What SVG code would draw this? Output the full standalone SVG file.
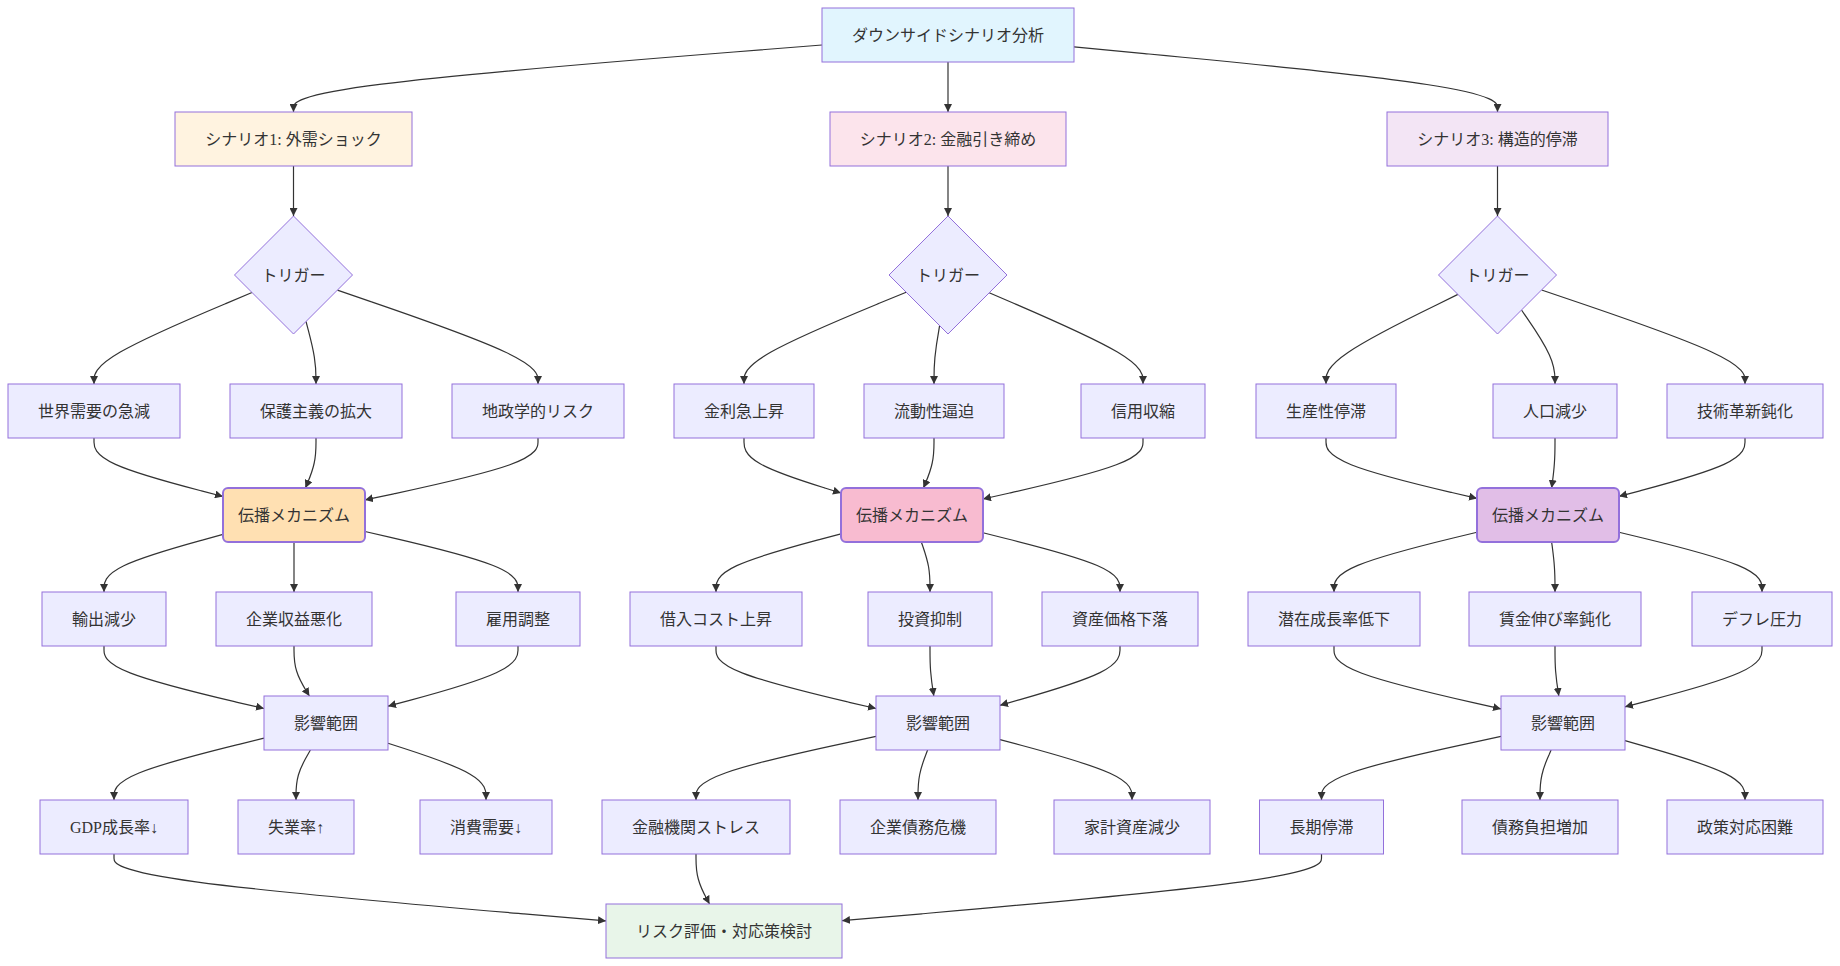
<svg xmlns="http://www.w3.org/2000/svg" width="1840" height="966" viewBox="0 0 1840 966">
<style>
.n rect,.n polygon{fill:#ECECFF;stroke:#9370DB;stroke-width:1px}
.n text{font-family:"Liberation Serif","Noto Sans CJK JP",serif;font-size:16px;fill:#333;text-anchor:middle;dominant-baseline:central}
.mech rect{stroke-width:2px}
#edges path{fill:none;stroke:#333;stroke-width:1.2px;marker-end:url(#arr)}
</style>
<defs>
<marker id="arr" viewBox="0 0 10 10" refX="10" refY="5" markerUnits="userSpaceOnUse" markerWidth="8" markerHeight="8" orient="auto"><path d="M0,0 L10,5 L0,10 z" fill="#333"/></marker>
</defs>
<rect width="1840" height="966" fill="#fff"/>
<g id="edges">
<path d="M822,45 L733.9,52 C645.8,59 469.7,73 381.6,84.2 C293.5,95.3 293.5,103.7 293.5,107.8 L293.5,112"/>
<path d="M948,62 L948,112"/>
<path d="M1074,46.9 L1144.6,53.6 C1215.2,60.3 1356.3,73.6 1426.9,84.5 C1497.5,95.3 1497.5,103.7 1497.5,107.8 L1497.5,112"/>
<path d="M293.5,166 L293.5,216"/>
<path d="M948,166 L948,216"/>
<path d="M1497.5,166 L1497.5,216"/>
<path d="M252,292.5 L225.7,303.6 C199.3,314.7 146.7,336.8 120.3,352.1 C94,367.3 94,375.7 94,379.8 L94,384"/>
<path d="M306,321.5 L307.7,327.8 C309.3,334 312.7,346.5 314.3,356.9 C316,367.3 316,375.7 316,379.8 L316,384"/>
<path d="M337.4,290.1 L370.8,301.6 C404.3,313.1 471.1,336 504.6,351.7 C538,367.3 538,375.7 538,379.8 L538,384"/>
<path d="M906.2,292.2 L879.2,303.3 C852.1,314.5 798.1,336.7 771,352 C744,367.3 744,375.7 744,379.8 L744,384"/>
<path d="M939.6,325.6 L938.7,331.2 C937.7,336.7 935.9,347.9 934.9,357.6 C934,367.3 934,375.7 934,379.8 L934,384"/>
<path d="M989.2,292.8 L1014.8,303.8 C1040.5,314.9 1091.7,336.9 1117.4,352.1 C1143,367.3 1143,375.7 1143,379.8 L1143,384"/>
<path d="M1457.9,294.4 L1435.9,305.2 C1413.9,315.9 1370,337.5 1348,352.4 C1326,367.3 1326,375.7 1326,379.8 L1326,384"/>
<path d="M1521.5,310 L1527.1,318.2 C1532.7,326.3 1543.8,342.7 1549.4,355 C1555,367.3 1555,375.7 1555,379.8 L1555,384"/>
<path d="M1541.6,290 L1575.5,301.5 C1609.4,313 1677.2,336 1711.1,351.7 C1745,367.3 1745,375.7 1745,379.8 L1745,384"/>
<path d="M94,438 L94,442.2 C94,446.3 94,454.7 115.5,464.4 C137,474.2 180,485.3 201.5,490.9 L223,496.5"/>
<path d="M316,438 L316,442.2 C316,446.3 316,454.7 314.2,463 C312.5,471.3 308.9,479.7 307.2,483.8 L305.4,488"/>
<path d="M538,438 L538,442.2 C538,446.3 538,454.7 509.2,465 C480.3,475.3 422.7,487.6 393.8,493.8 L365,499.9"/>
<path d="M744,438 L744,442.2 C744,446.3 744,454.7 760.2,463.8 C776.3,473 808.7,483 824.8,488 L841,493"/>
<path d="M934,438 L934,442.2 C934,446.3 934,454.7 932.2,463 C930.5,471.3 926.9,479.7 925.2,483.8 L923.4,488"/>
<path d="M1143,438 L1143,442.2 C1143,446.3 1143,454.7 1116.3,464.8 C1089.7,475 1036.3,487 1009.7,493 L983,499"/>
<path d="M1326,438 L1326,442.2 C1326,446.3 1326,454.7 1351.2,464.7 C1376.3,474.8 1426.7,486.6 1451.8,492.5 L1477,498.4"/>
<path d="M1555,438 L1555,442.2 C1555,446.3 1555,454.7 1554.4,463 C1553.9,471.3 1552.7,479.7 1552.2,483.8 L1551.6,488"/>
<path d="M1745,438 L1745,442.2 C1745,446.3 1745,454.7 1724,464.4 C1703,474.1 1661,485.2 1640,490.8 L1619,496.3"/>
<path d="M223,534.4 L203.2,539.8 C183.3,545.3 143.7,556.1 123.8,565.7 C104,575.3 104,583.7 104,587.8 L104,592"/>
<path d="M294,542 L294,592"/>
<path d="M365,531.5 L390.5,537.4 C416,543.3 467,555.2 492.5,565.3 C518,575.3 518,583.7 518,587.8 L518,592"/>
<path d="M841,533.8 L820.2,539.3 C799.3,544.9 757.7,555.9 736.8,565.6 C716,575.3 716,583.7 716,587.8 L716,592"/>
<path d="M921.3,542 L922.8,546.2 C924.2,550.3 927.1,558.7 928.6,567 C930,575.3 930,583.7 930,587.8 L930,592"/>
<path d="M983,532.75 L1005.8,538.5 C1028.7,544.2 1074.3,555.6 1097.2,565.5 C1120,575.3 1120,583.7 1120,587.8 L1120,592"/>
<path d="M1477,532.25 L1453.2,538 C1429.3,543.8 1381.7,555.4 1357.8,565.4 C1334,575.3 1334,583.7 1334,587.8 L1334,592"/>
<path d="M1551.6,542 L1552.2,546.2 C1552.7,550.3 1553.9,558.7 1554.4,567 C1555,575.3 1555,583.7 1555,587.8 L1555,592"/>
<path d="M1619,532.25 L1642.8,538 C1666.7,543.8 1714.3,555.4 1738.2,565.4 C1762,575.3 1762,583.7 1762,587.8 L1762,592"/>
<path d="M104,646 L104,650.2 C104,654.3 104,662.7 130.7,673.1 C157.3,683.5 210.7,696 237.3,702.3 L264,708.5"/>
<path d="M294,646 L294,650.2 C294,654.3 294,662.7 296.6,671 C299.1,679.3 304.3,687.7 306.8,691.8 L309.4,696"/>
<path d="M518,646 L518,650.2 C518,654.3 518,662.7 496.3,672.7 C474.7,682.7 431.3,694.5 409.7,700.3 L388,706.2"/>
<path d="M716,646 L716,650.2 C716,654.3 716,662.7 742.7,673.1 C769.3,683.5 822.7,696 849.3,702.3 L876,708.5"/>
<path d="M930,646 L930,650.2 C930,654.3 930,662.7 930.6,671 C931.3,679.3 932.5,687.7 933.2,691.8 L933.8,696"/>
<path d="M1120,646 L1120,650.2 C1120,654.3 1120,662.7 1100,672.6 C1080,682.4 1040,693.9 1020,699.6 L1000,705.3"/>
<path d="M1334,646 L1334,650.2 C1334,654.3 1334,662.7 1361.8,673.2 C1389.7,683.6 1445.3,696.3 1473.2,702.6 L1501,708.9"/>
<path d="M1555,646 L1555,650.2 C1555,654.3 1555,662.7 1555.6,671 C1556.3,679.3 1557.5,687.7 1558.2,691.8 L1558.8,696"/>
<path d="M1762,646 L1762,650.2 C1762,654.3 1762,662.7 1739.2,672.8 C1716.3,682.9 1670.7,694.9 1647.8,700.8 L1625,706.8"/>
<path d="M264,738.2 L239,744.3 C214,750.5 164,762.7 139,773 C114,783.3 114,791.7 114,795.8 L114,800"/>
<path d="M310.4,750 L308,754.2 C305.6,758.3 300.8,766.7 298.4,775 C296,783.3 296,791.7 296,795.8 L296,800"/>
<path d="M388,743.2 L404.3,748.5 C420.7,753.8 453.3,764.4 469.7,773.9 C486,783.3 486,791.7 486,795.8 L486,800"/>
<path d="M876,736.3 L846,742.8 C816,749.2 756,762.1 726,772.7 C696,783.3 696,791.7 696,795.8 L696,800"/>
<path d="M927.6,750 L926,754.2 C924.4,758.3 921.2,766.7 919.6,775 C918,783.3 918,791.7 918,795.8 L918,800"/>
<path d="M1000,739.6 L1022,745.5 C1044,751.4 1088,763.2 1110,773.3 C1132,783.3 1132,791.7 1132,795.8 L1132,800"/>
<path d="M1501,736.35 L1471.1,742.8 C1441.2,749.2 1381.3,762.1 1351.4,772.7 C1321.5,783.3 1321.5,791.7 1321.5,795.8 L1321.5,800"/>
<path d="M1551.1,750 L1549.3,754.2 C1547.4,758.3 1543.7,766.7 1541.9,775 C1540,783.3 1540,791.7 1540,795.8 L1540,800"/>
<path d="M1625,740.7 L1645,746.4 C1665,752.1 1705,763.6 1725,773.4 C1745,783.3 1745,791.7 1745,795.8 L1745,800"/>
<path d="M114,854 L114,858.2 C114,862.3 114,870.7 196,881.8 C278,893 442,906.9 524,913.9 L606,920.9"/>
<path d="M696,854 L696,858.2 C696,862.3 696,870.7 698.3,879 C700.5,887.3 705,895.7 707.3,899.8 L709.5,904"/>
<path d="M1321.5,854 L1321.5,858.2 C1321.5,862.3 1321.5,870.7 1241.6,881.8 C1161.7,892.9 1001.8,906.8 921.9,913.8 L842,920.7"/>
</g>
<g id="root" class="n"><rect x="822" y="8" width="252" height="54" style="fill:#e1f5fe"/><text x="948" y="35">ダウンサイドシナリオ分析</text></g>
<g id="s1" class="n"><rect x="175" y="112" width="237" height="54" style="fill:#fff3e0"/><text x="293.5" y="139">シナリオ1: 外需ショック</text></g>
<g id="s2" class="n"><rect x="830" y="112" width="236" height="54" style="fill:#fce4ec"/><text x="948" y="139">シナリオ2: 金融引き締め</text></g>
<g id="s3" class="n"><rect x="1387" y="112" width="221" height="54" style="fill:#f3e5f5"/><text x="1497.5" y="139">シナリオ3: 構造的停滞</text></g>
<g id="t1" class="n"><polygon points="293.5,216 352.5,275 293.5,334 234.5,275"/><text x="293.5" y="275">トリガー</text></g>
<g id="t2" class="n"><polygon points="948,216 1007,275 948,334 889,275"/><text x="948" y="275">トリガー</text></g>
<g id="t3" class="n"><polygon points="1497.5,216 1556.5,275 1497.5,334 1438.5,275"/><text x="1497.5" y="275">トリガー</text></g>
<g id="a1" class="n"><rect x="8" y="384" width="172" height="54"/><text x="94" y="411">世界需要の急減</text></g>
<g id="a2" class="n"><rect x="230" y="384" width="172" height="54"/><text x="316" y="411">保護主義の拡大</text></g>
<g id="a3" class="n"><rect x="452" y="384" width="172" height="54"/><text x="538" y="411">地政学的リスク</text></g>
<g id="b1" class="n"><rect x="674" y="384" width="140" height="54"/><text x="744" y="411">金利急上昇</text></g>
<g id="b2" class="n"><rect x="864" y="384" width="140" height="54"/><text x="934" y="411">流動性逼迫</text></g>
<g id="b3" class="n"><rect x="1081" y="384" width="124" height="54"/><text x="1143" y="411">信用収縮</text></g>
<g id="c1" class="n"><rect x="1256" y="384" width="140" height="54"/><text x="1326" y="411">生産性停滞</text></g>
<g id="c2" class="n"><rect x="1493" y="384" width="124" height="54"/><text x="1555" y="411">人口減少</text></g>
<g id="c3" class="n"><rect x="1667" y="384" width="156" height="54"/><text x="1745" y="411">技術革新鈍化</text></g>
<g id="m1" class="n mech"><rect x="223" y="488" width="142" height="54" rx="5" style="fill:#ffe0b2"/><text x="294" y="515">伝播メカニズム</text></g>
<g id="m2" class="n mech"><rect x="841" y="488" width="142" height="54" rx="5" style="fill:#f8bbd0"/><text x="912" y="515">伝播メカニズム</text></g>
<g id="m3" class="n mech"><rect x="1477" y="488" width="142" height="54" rx="5" style="fill:#e1bee7"/><text x="1548" y="515">伝播メカニズム</text></g>
<g id="d1" class="n"><rect x="42" y="592" width="124" height="54"/><text x="104" y="619">輸出減少</text></g>
<g id="d2" class="n"><rect x="216" y="592" width="156" height="54"/><text x="294" y="619">企業収益悪化</text></g>
<g id="d3" class="n"><rect x="456" y="592" width="124" height="54"/><text x="518" y="619">雇用調整</text></g>
<g id="e1" class="n"><rect x="630" y="592" width="172" height="54"/><text x="716" y="619">借入コスト上昇</text></g>
<g id="e2" class="n"><rect x="868" y="592" width="124" height="54"/><text x="930" y="619">投資抑制</text></g>
<g id="e3" class="n"><rect x="1042" y="592" width="156" height="54"/><text x="1120" y="619">資産価格下落</text></g>
<g id="f1" class="n"><rect x="1248" y="592" width="172" height="54"/><text x="1334" y="619">潜在成長率低下</text></g>
<g id="f2" class="n"><rect x="1469" y="592" width="172" height="54"/><text x="1555" y="619">賃金伸び率鈍化</text></g>
<g id="f3" class="n"><rect x="1692" y="592" width="140" height="54"/><text x="1762" y="619">デフレ圧力</text></g>
<g id="i1" class="n"><rect x="264" y="696" width="124" height="54"/><text x="326" y="723">影響範囲</text></g>
<g id="i2" class="n"><rect x="876" y="696" width="124" height="54"/><text x="938" y="723">影響範囲</text></g>
<g id="i3" class="n"><rect x="1501" y="696" width="124" height="54"/><text x="1563" y="723">影響範囲</text></g>
<g id="g1" class="n"><rect x="40" y="800" width="148" height="54"/><text x="114" y="827">GDP成長率↓</text></g>
<g id="g2" class="n"><rect x="238" y="800" width="116" height="54"/><text x="296" y="827">失業率↑</text></g>
<g id="g3" class="n"><rect x="420" y="800" width="132" height="54"/><text x="486" y="827">消費需要↓</text></g>
<g id="h1" class="n"><rect x="602" y="800" width="188" height="54"/><text x="696" y="827">金融機関ストレス</text></g>
<g id="h2" class="n"><rect x="840" y="800" width="156" height="54"/><text x="918" y="827">企業債務危機</text></g>
<g id="h3" class="n"><rect x="1054" y="800" width="156" height="54"/><text x="1132" y="827">家計資産減少</text></g>
<g id="k1" class="n"><rect x="1259.5" y="800" width="124" height="54"/><text x="1321.5" y="827">長期停滞</text></g>
<g id="k2" class="n"><rect x="1462" y="800" width="156" height="54"/><text x="1540" y="827">債務負担増加</text></g>
<g id="k3" class="n"><rect x="1667" y="800" width="156" height="54"/><text x="1745" y="827">政策対応困難</text></g>
<g id="final" class="n"><rect x="606" y="904" width="236" height="54" style="fill:#e8f5e9"/><text x="724" y="931">リスク評価・対応策検討</text></g>
</svg>
